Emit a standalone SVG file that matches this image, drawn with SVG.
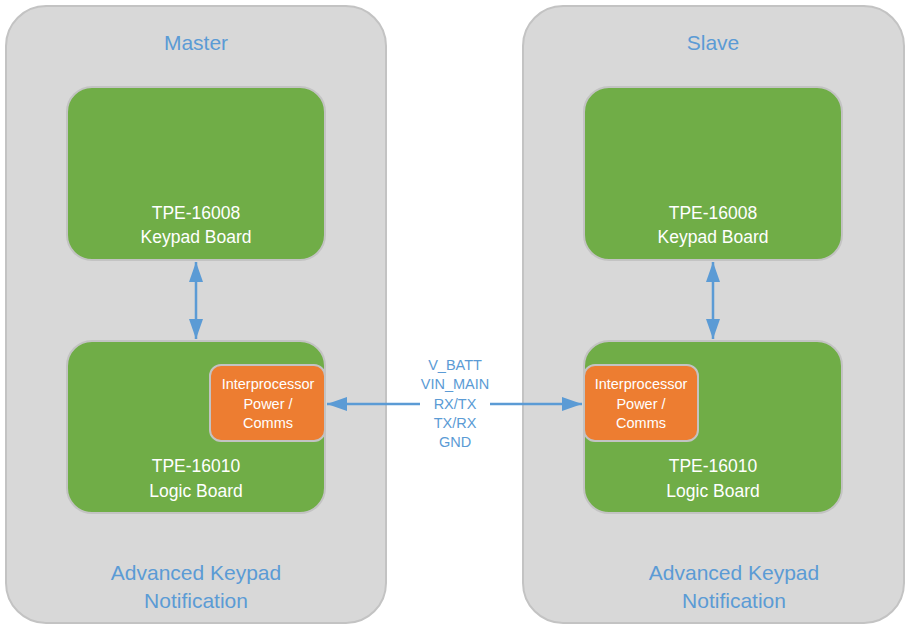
<svg xmlns="http://www.w3.org/2000/svg" width="912" height="631" viewBox="0 0 912 631">
<defs>
<style>
.outer{fill:#d8d8d8;stroke:#c3c3c3;stroke-width:2}
.board{fill:#70ad47;stroke:#c3c3c3;stroke-width:2}
.ipc{fill:#ed7d31;stroke:#c3c3c3;stroke-width:2}
.t{font-family:"Liberation Sans",Arial,sans-serif;text-anchor:middle}
.title{font-size:21px;fill:#5b9bd5}
.bt{font-size:17.5px;fill:#ffffff}
.it{font-size:14.5px;fill:#ffffff}
.lbl{font-size:14.5px;fill:#5b9bd5}
.conn{stroke:#5b9bd5;stroke-width:2.5;fill:none}
</style>
<marker id="ah" viewBox="0 0 20 14" refX="20" refY="7" markerWidth="20" markerHeight="14" orient="auto-start-reverse" markerUnits="userSpaceOnUse">
<path d="M0,0 L20,7 L0,14 z" fill="#5b9bd5"/>
</marker>
</defs>
<rect width="912" height="631" fill="#ffffff"/>
<g id="master">
<rect class="outer" x="6" y="6" width="380" height="617" rx="40"/>
<text class="t title" x="196" y="50">Master</text>
<text class="t title" x="196" y="580">Advanced Keypad</text>
<text class="t title" x="196" y="608">Notification</text>
</g>
<g id="slave">
<rect class="outer" x="523" y="6" width="381" height="617" rx="40"/>
<text class="t title" x="713" y="50">Slave</text>
<text class="t title" x="734" y="580">Advanced Keypad</text>
<text class="t title" x="734" y="608">Notification</text>
</g>
<g id="master-keypad">
<rect class="board" x="67" y="87" width="258" height="173" rx="25"/>
<text class="t bt" x="196" y="219">TPE-16008</text>
<text class="t bt" x="196" y="243">Keypad Board</text>
</g>
<g id="master-logic">
<rect class="board" x="67" y="341" width="258" height="172" rx="25"/>
<text class="t bt" x="196" y="472">TPE-16010</text>
<text class="t bt" x="196" y="497">Logic Board</text>
</g>
<g id="master-ipc">
<rect class="ipc" x="210" y="365" width="115" height="76" rx="11"/>
<text class="t it" x="268" y="389">Interprocessor</text>
<text class="t it" x="268" y="409">Power /</text>
<text class="t it" x="268" y="428">Comms</text>
</g>
<g id="slave-keypad">
<rect class="board" x="584" y="87" width="258" height="173" rx="25"/>
<text class="t bt" x="713" y="219">TPE-16008</text>
<text class="t bt" x="713" y="243">Keypad Board</text>
</g>
<g id="slave-logic">
<rect class="board" x="584" y="341" width="258" height="172" rx="25"/>
<text class="t bt" x="713" y="472">TPE-16010</text>
<text class="t bt" x="713" y="497">Logic Board</text>
</g>
<g id="slave-ipc">
<rect class="ipc" x="584" y="365" width="114" height="76" rx="11"/>
<text class="t it" x="641" y="389">Interprocessor</text>
<text class="t it" x="641" y="409">Power /</text>
<text class="t it" x="641" y="428">Comms</text>
</g>
<g id="connectors">
<line class="conn" x1="196" y1="262" x2="196" y2="339" marker-start="url(#ah)" marker-end="url(#ah)"/>
<line class="conn" x1="713" y1="262" x2="713" y2="339" marker-start="url(#ah)" marker-end="url(#ah)"/>
<line class="conn" x1="420" y1="404" x2="327" y2="404" marker-end="url(#ah)"/>
<line class="conn" x1="490" y1="404" x2="582" y2="404" marker-end="url(#ah)"/>
<text class="t lbl" x="455" y="370">V_BATT</text>
<text class="t lbl" x="455" y="389">VIN_MAIN</text>
<text class="t lbl" x="455" y="409">RX/TX</text>
<text class="t lbl" x="455" y="428">TX/RX</text>
<text class="t lbl" x="455" y="447">GND</text>
</g>
</svg>
